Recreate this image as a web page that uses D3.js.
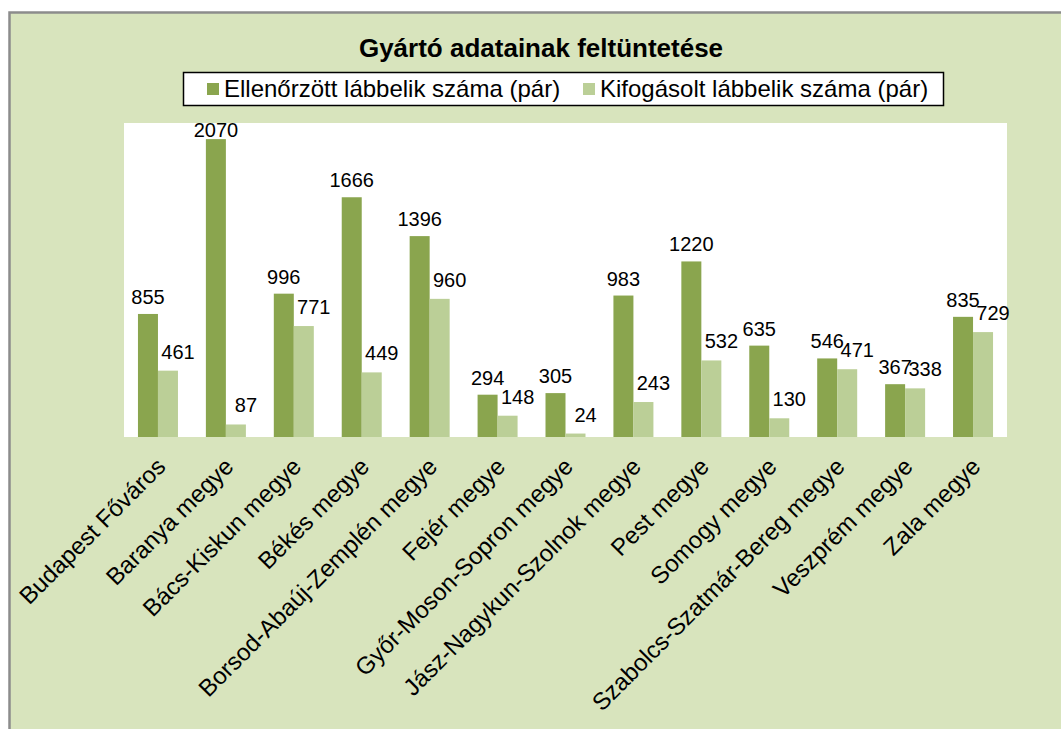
<!DOCTYPE html>
<html>
<head>
<meta charset="utf-8">
<script src="https://cdn.jsdelivr.net/npm/d3@7"></script>
<style>
  body { margin: 0; background: #fff; }
  svg text { font-family: "Liberation Sans", Arial, sans-serif; fill: #000; }
</style>
</head>
<body>
<svg id="chart"></svg>
<script>
// data
var categories = ["Budapest Főváros", "Baranya megye", "Bács-Kiskun megye", "Békés megye",
  "Borsod-Abaúj-Zemplén megye", "Fejér megye", "Győr-Moson-Sopron megye",
  "Jász-Nagykun-Szolnok megye", "Pest megye", "Somogy megye",
  "Szabolcs-Szatmár-Bereg megye", "Veszprém megye", "Zala megye"];
var checked = [855, 2070, 996, 1666, 1396, 294, 305, 983, 1220, 635, 546, 367, 835];
var rejected = [461, 87, 771, 449, 960, 148, 24, 243, 532, 130, 471, 338, 729];
var seriesNames = ["Ellenőrzött lábbelik száma (pár)", "Kifogásolt lábbelik száma (pár)"];
var seriesColors = ["#8aa54e", "#bbcf97"];

var W = 1061, H = 729;

var svg = d3.select("#chart")
  .attr("width", W)
  .attr("height", H);

// chart area background + border
svg.append("rect")
  .attr("x", 9).attr("y", 13)
  .attr("width", W).attr("height", H)
  .attr("fill", "#d8e4bd");
svg.append("path")
  .attr("d", "M9.5," + H + "V12.5H" + W)
  .attr("fill", "none")
  .attr("stroke", "#8c8c8c")
  .attr("stroke-width", 2.5);

// plot area
var plot = { left: 124, right: 1007, top: 123, bottom: 437 };
svg.append("rect")
  .attr("x", plot.left).attr("y", plot.top)
  .attr("width", plot.right - plot.left)
  .attr("height", plot.bottom - plot.top)
  .attr("fill", "#fff");

// title
svg.append("text")
  .attr("x", 541).attr("y", 57)
  .attr("text-anchor", "middle")
  .attr("font-size", 26)
  .attr("font-weight", "bold")
  .text("Gyártó adatainak feltüntetése");

// legend
var legend = svg.append("g");
legend.append("rect")
  .attr("x", 183.5).attr("y", 72.5)
  .attr("width", 760).attr("height", 33)
  .attr("fill", "#fff")
  .attr("stroke", "#000")
  .attr("stroke-width", 1.5);
var legendX = [207, 583];
seriesNames.forEach(function (name, i) {
  legend.append("rect")
    .attr("x", legendX[i]).attr("y", 83)
    .attr("width", 12).attr("height", 12)
    .attr("fill", seriesColors[i]);
  legend.append("text")
    .attr("x", legendX[i] + 17).attr("y", 97)
    .attr("font-size", 24)
    .text(name);
});

// scales
var x = d3.scaleBand()
  .domain(categories)
  .range([plot.left, plot.right]);

var x1 = d3.scaleBand()
  .domain([0, 1])
  .range([0, 40]);

var y = d3.scaleLinear()
  .domain([0, 2182])
  .range([plot.bottom, plot.top]);

var groupOffset = (x.bandwidth() - 40) / 2;

var rows = categories.map(function (c, i) {
  return { cat: c, values: [checked[i], rejected[i]] };
});

var groups = svg.selectAll(".grp")
  .data(rows)
  .enter()
  .append("g")
  .attr("class", "grp")
  .attr("transform", function (d) { return "translate(" + (x(d.cat) + groupOffset) + ",0)"; });

groups.selectAll("rect")
  .data(function (d) { return d.values; })
  .enter()
  .append("rect")
  .attr("x", function (d, i) { return x1(i); })
  .attr("width", x1.bandwidth())
  .attr("y", function (d) { return y(d); })
  .attr("height", function (d) { return plot.bottom - y(d); })
  .attr("fill", function (d, i) { return seriesColors[i]; });

// value labels (kept inside the plot area)
groups.selectAll("text")
  .data(function (d) { return d.values; })
  .enter()
  .append("text")
  .attr("x", function (d, i) { return x1(i) + x1.bandwidth() / 2 + (i === 1 ? 10 : 0); })
  .attr("y", function (d, i) { return Math.max(y(d) - (i === 1 ? 12 : 10), plot.top + 14); })
  .attr("text-anchor", "middle")
  .attr("font-size", 20)
  .text(function (d) { return d; });

// category axis
var xAxis = svg.append("g")
  .attr("transform", "translate(0," + plot.bottom + ")")
  .call(d3.axisBottom(x).tickSize(0).tickPadding(0));
xAxis.select(".domain").remove();
xAxis.selectAll("text")
  .attr("font-family", "Liberation Sans, Arial, sans-serif")
  .attr("font-size", 24)
  .attr("fill", "#000")
  .attr("dy", null)
  .attr("y", 0)
  .attr("x", 0)
  .attr("text-anchor", "end")
  .attr("transform", "translate(9,31) rotate(-45)");
</script>
</body>
</html>
